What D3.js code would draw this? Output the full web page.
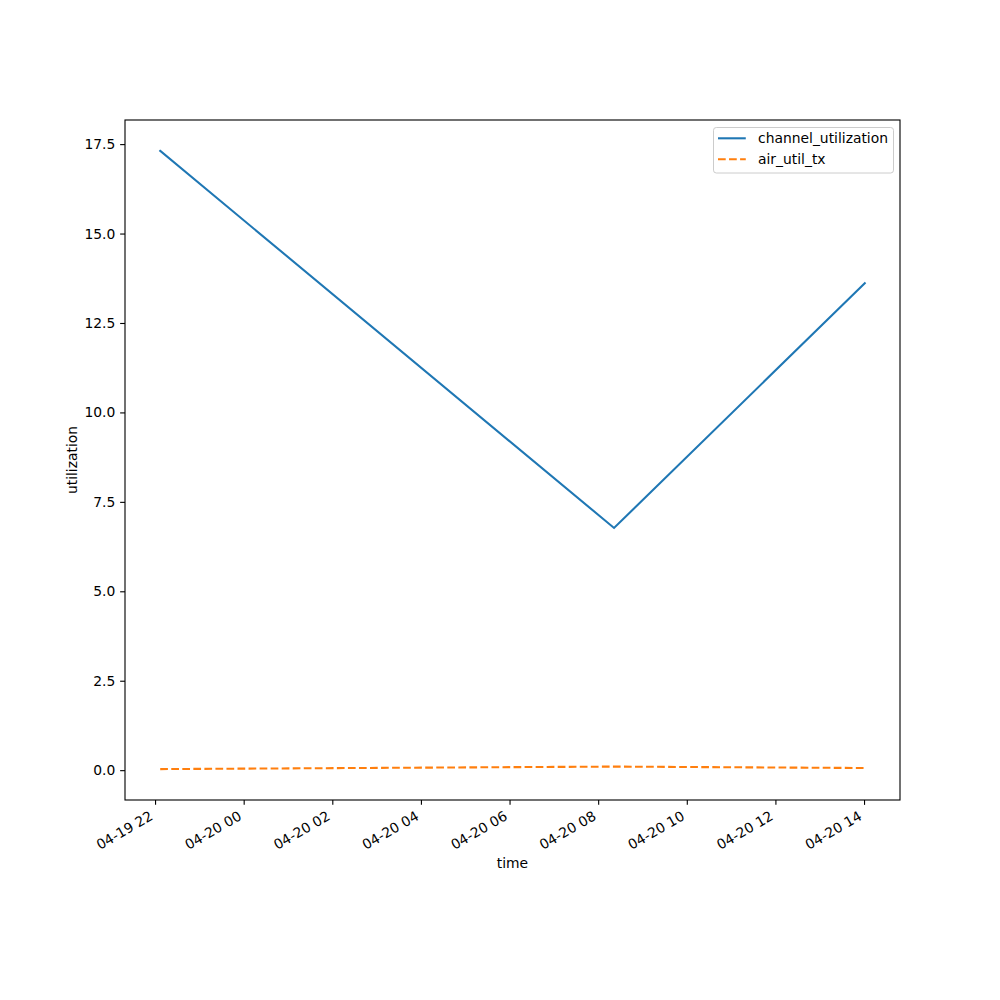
<!DOCTYPE html>
<html><head><meta charset="utf-8">
<script src="https://cdn.jsdelivr.net/npm/d3@7"></script>
<style>body{margin:0;background:#fff}svg{display:block;font-family:"DejaVu Sans",sans-serif}</style>
</head><body>
<script>
const times = ["2024-04-19T22:07:00", "2024-04-20T08:21:30", "2024-04-20T14:01:00"];
const channelUtilization = [17.31, 6.77, 13.61];
const airUtilTx = [0.03, 0.10, 0.06];
const yTicks = [0.0, 2.5, 5.0, 7.5, 10.0, 12.5, 15.0, 17.5];
const xTickLabels = ["04-19 22", "04-20 00", "04-20 02", "04-20 04", "04-20 06", "04-20 08", "04-20 10", "04-20 12", "04-20 14"];
const seriesNames = ["channel_utilization", "air_util_tx"];

const W = 1000, H = 1000;
const L = 125, R = 900, T = 120, B = 800;
const PT = 100 / 72;
const FS = 10 * PT;
const TICK = 3.5 * PT, PAD = 3.5 * PT;
const LW = 1.5 * PT;
const DASH = `${3.7 * LW},${1.6 * LW}`;

const svg = d3.select("body").append("svg").attr("width", W).attr("height", H);

const parse = d3.timeParse("%Y-%m-%dT%H:%M:%S");
const dates = times.map(parse);
const x0 = d3.min(dates), x1 = d3.max(dates);
const xm = (x1 - x0) * 0.05;
const x = d3.scaleTime().domain([new Date(+x0 - xm), new Date(+x1 + xm)]).range([L, R]);
const all = channelUtilization.concat(airUtilTx);
const ymin = d3.min(all), ymax = d3.max(all), ym = (ymax - ymin) * 0.05;
const y = d3.scaleLinear().domain([ymin - ym, ymax + ym]).range([B, T]);

// lines
const line = d3.line().x(d => x(d[0])).y(d => y(d[1]));
const g = svg.append("g");
g.append("path").datum(dates.map((d, i) => [d, channelUtilization[i]]))
  .attr("d", line).attr("fill", "none").attr("stroke", "#1f77b4").attr("stroke-width", LW)
  .attr("stroke-linecap", "square");
g.append("path").datum(dates.map((d, i) => [d, airUtilTx[i]]))
  .attr("d", line).attr("fill", "none").attr("stroke", "#ff7f0e").attr("stroke-width", LW)
  .attr("stroke-dasharray", DASH);

// axes
const xTicks = xTickLabels.map(s => d3.timeParse("%Y-%m-%d %H")("2024-" + s));
const xAxis = svg.append("g").attr("transform", `translate(0,${B})`)
  .call(d3.axisBottom(x).tickValues(xTicks).tickFormat((d, i) => xTickLabels[i]).tickSize(TICK).tickSizeOuter(0));
xAxis.select(".domain").remove();
const asc = 0.76 * FS, desc = 0.236 * FS;
xAxis.selectAll(".tick text").attr("font-size", FS + "px").attr("fill", "#000")
  .attr("font-family", "DejaVu Sans")
  .attr("text-anchor", "end").attr("x", 0).attr("y", 0).attr("dy", 0)
  .attr("transform", `translate(${-0.5 * desc},${TICK + PAD + 0.866 * asc}) rotate(-30)`);

const yAxis = svg.append("g").attr("transform", `translate(${L},0)`)
  .call(d3.axisLeft(y).tickValues(yTicks).tickFormat(d3.format(".1f")).tickSize(TICK).tickPadding(PAD).tickSizeOuter(0));
yAxis.select(".domain").remove();
yAxis.selectAll("text").attr("font-size", FS + "px").attr("fill", "#000").attr("font-family", "DejaVu Sans");
svg.selectAll(".tick line").attr("stroke", "#000").attr("stroke-width", 0.8 * PT);

// frame
svg.append("rect").attr("x", L).attr("y", T).attr("width", R - L).attr("height", B - T)
  .attr("fill", "none").attr("stroke", "#000").attr("stroke-width", 0.8 * PT);

// labels
svg.append("text").attr("x", (L + R) / 2).attr("y", 868).attr("text-anchor", "middle")
  .attr("font-size", FS + "px").text("time");
svg.append("text").attr("transform", `translate(76.5,${(T + B) / 2}) rotate(-90)`).attr("text-anchor", "middle")
  .attr("font-size", FS + "px").text("utilization");

// legend
const lg = svg.append("g");
lg.append("rect").attr("x", 713.5).attr("y", 127.5).attr("width", 180).attr("height", 45.5).attr("rx", 2.8)
  .attr("fill", "#fff").attr("fill-opacity", 0.8).attr("stroke", "#cccccc").attr("stroke-width", 1);
const colors = ["#1f77b4", "#ff7f0e"];
seriesNames.forEach((n, i) => {
  const yy = 138.3 + i * 21;
  lg.append("line").attr("x1", 718).attr("x2", 718 + 2 * FS).attr("y1", yy).attr("y2", yy)
    .attr("stroke", colors[i]).attr("stroke-width", LW).attr("stroke-dasharray", i ? DASH : null);
  lg.append("text").attr("x", 758).attr("y", yy).attr("dy", "0.36em").attr("font-size", FS + "px").text(n);
});
</script>
</body></html>
